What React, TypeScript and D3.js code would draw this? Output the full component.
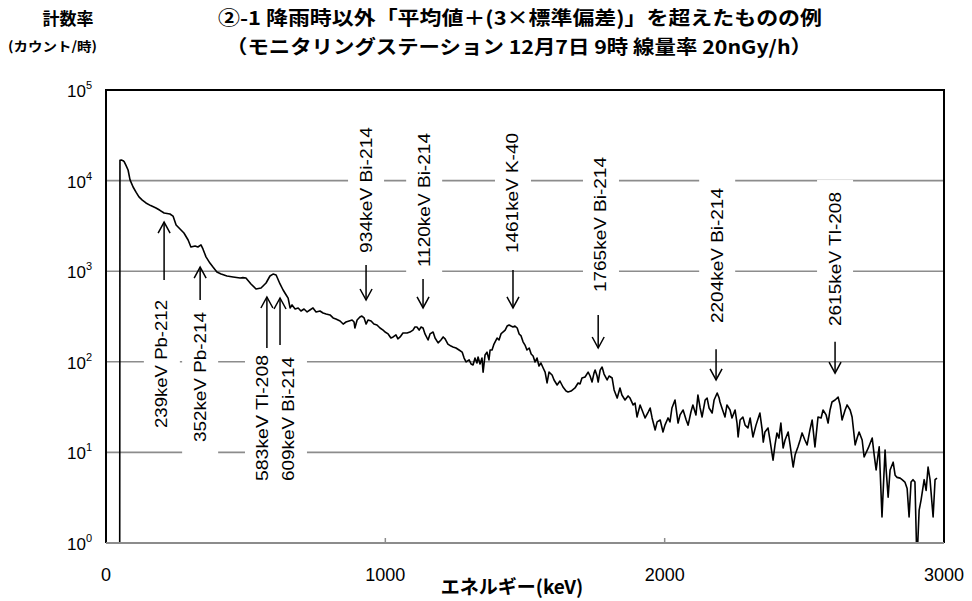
import { useEffect, useRef } from 'react';
import * as d3 from 'd3';

// spectrum: [energy keV, counts per hour]
const spectrum: [number, number][] = [
  [49, 0.3], [50, 16800], [55, 16900], [61, 16600], [65, 16200], [72, 14600], [79, 13100], [86, 10200],
  [97, 8500], [108, 7400], [118, 6600], [130, 6100], [143, 5660], [160, 5300], [179, 4990], [193, 4700],
  [208, 4390], [229, 4280], [240, 4060], [251, 3240], [265, 2920], [279, 2640], [294, 2210], [304, 1850],
  [319, 1900], [329, 1850], [340, 1950], [347, 1760], [358, 1440], [372, 1230], [383, 1110], [397, 980],
  [412, 930], [433, 885], [455, 863], [480, 841], [490, 850], [501, 841], [519, 723], [537, 637],
  [555, 653], [573, 741], [587, 885], [598, 930], [609, 908], [623, 723], [634, 620], [645, 546],
  [652, 505], [659, 393], [666, 424], [677, 383], [688, 393], [698, 364], [709, 383], [720, 355],
  [730, 373], [741, 393], [752, 355], [766, 364], [777, 346], [788, 337], [802, 329], [813, 305],
  [823, 297], [838, 282], [849, 261], [859, 275], [870, 282], [881, 289], [888, 275], [891, 236],
  [899, 289], [909, 312], [916, 320], [924, 305], [931, 261], [938, 289], [949, 282], [959, 261],
  [970, 255], [981, 236], [992, 224], [999, 213], [1010, 203], [1020, 183], [1028, 188], [1038, 198],
  [1045, 179], [1053, 188], [1063, 208], [1078, 208], [1088, 213], [1099, 224], [1106, 242], [1113, 242],
  [1121, 224], [1128, 242], [1135, 236], [1142, 203], [1153, 174], [1160, 203], [1171, 213], [1178, 183],
  [1189, 162], [1199, 174], [1207, 188], [1214, 179], [1224, 157], [1235, 149], [1242, 146], [1253, 142],
  [1264, 135], [1275, 128], [1282, 110], [1289, 99.6], [1300, 105], [1307, 94.6], [1314, 92.3], [1321, 110],
  [1328, 97], [1332, 113], [1339, 94.6], [1346, 110], [1350, 77], [1357, 119], [1364, 128], [1371, 105],
  [1375, 135], [1382, 135], [1389, 157], [1400, 183], [1407, 174], [1414, 203], [1421, 213], [1429, 224],
  [1436, 248], [1443, 255], [1450, 248], [1457, 242], [1464, 248], [1472, 236], [1479, 203], [1486, 193],
  [1493, 166], [1500, 153], [1507, 135], [1515, 142], [1522, 122], [1529, 116], [1536, 99.6], [1543, 110],
  [1550, 90], [1557, 97], [1565, 85.5], [1572, 77], [1579, 58.4], [1586, 77], [1597, 71.5], [1604, 63],
  [1615, 55.5], [1625, 61.4], [1636, 52.7], [1647, 47.6], [1654, 46.5], [1665, 47.6], [1679, 51.4], [1690, 58.4],
  [1697, 56.9], [1704, 66.2], [1715, 67.9], [1726, 77], [1733, 69.7], [1740, 59.8], [1747, 75], [1751, 81],
  [1758, 69.7], [1762, 59.8], [1769, 81], [1776, 87.5], [1783, 73.3], [1794, 63], [1801, 69.7], [1812, 66.2],
  [1819, 48.9], [1830, 39.8], [1840, 51.4], [1847, 43], [1858, 37.9], [1869, 42], [1876, 39.8], [1887, 33.4],
  [1894, 35.1], [1901, 24.6], [1912, 33.4], [1919, 29.4], [1930, 24], [1941, 27.9], [1948, 30.9], [1955, 24],
  [1966, 17.7], [1973, 21.7], [1984, 22.8], [1994, 16.8], [2001, 20], [2012, 24], [2019, 21.7], [2026, 30.9],
  [2037, 37.9], [2048, 21.1], [2055, 25.9], [2066, 29.4], [2077, 22.8], [2084, 20], [2094, 27.9], [2101, 33.4],
  [2112, 25.9], [2119, 43], [2127, 30.9], [2134, 24.6], [2145, 37.9], [2152, 39.8], [2159, 30.9], [2170, 27.2],
  [2177, 37.9], [2188, 45.2], [2195, 39.8], [2198, 36], [2205, 30.9], [2216, 24.6], [2223, 33.4], [2234, 29.4],
  [2241, 24], [2252, 29.4], [2259, 21.1], [2263, 14.8], [2270, 22.8], [2280, 24.6], [2288, 20], [2298, 18.6],
  [2306, 24], [2316, 14.8], [2327, 20], [2341, 27.2], [2349, 17.7], [2353, 13], [2359, 16.8], [2370, 18.6],
  [2377, 13.7], [2388, 8.2], [2395, 12.1], [2402, 16.4], [2409, 14.4], [2416, 21.1], [2424, 11.2], [2431, 13.7],
  [2442, 16.8], [2449, 12.1], [2460, 6.9], [2467, 9.4], [2477, 11.5], [2485, 13.7], [2492, 16.4], [2502, 13.7],
  [2510, 12.1], [2520, 17.7], [2528, 22.8], [2538, 11.5], [2549, 24.6], [2560, 24], [2567, 29.4], [2578, 25.9],
  [2585, 21.1], [2592, 29.4], [2599, 36], [2610, 37.9], [2621, 40.8], [2628, 33.4], [2635, 22.8], [2646, 29.4],
  [2653, 33.4], [2664, 29.4], [2671, 24.6], [2682, 12.1], [2689, 14.4], [2696, 16.8], [2707, 13.7], [2714, 8.9],
  [2729, 11.2], [2743, 14.4], [2750, 9.4], [2757, 6.4], [2764, 9.4], [2768, 11.5], [2778, 1.94], [2789, 10.6],
  [2793, 6.4], [2800, 3.2], [2807, 6.4], [2818, 7.8], [2825, 5.6], [2832, 5.3], [2843, 5.2], [2850, 5.0],
  [2860, 4.7], [2868, 4.0], [2875, 1.94], [2882, 4.7], [2889, 5.0], [2896, 4.7], [2903, 0.6], [2911, 2.3],
  [2918, 3.0], [2929, 5.0], [2936, 3.8], [2943, 6.9], [2950, 5.0], [2961, 1.94], [2968, 5.0], [2975, 5.2],
];

// peak annotations
const peakLabels = [
  "239keV Pb-212", "352keV Pb-214", "583keV Tl-208", "609keV Bi-214", "934keV Bi-214",
  "1120keV Bi-214", "1461keV K-40", "1765keV Bi-214", "2204keV Bi-214", "2615keV Tl-208",
];
const labelEnergy = [200, 337, 562, 655, 931, 1139, 1457, 1772, 2188, 2610];
const labelBottom = [18.6, 13.0, 4.83, 4.83, 1590, 1110, 1590, 589, 268, 248];
const labelTop = [481, 355, 119, 113, 39100, 33500, 33500, 18200, 8280, 7480];
const arrowEnergy = [208, 337, 576, 623, 931, 1135, 1457, 1762, 2184, 2610];
const arrowFrom = [800, 481, 142, 153, 1170, 820, 1030, 329, 138, 166];
const arrowTo = [3490, 1110, 519, 506, 481, 393, 393, 142, 63, 75];

const xTicks = [0, 1000, 2000, 3000];
const yExponents = [0, 1, 2, 3, 4, 5];

const App = () => {
  const svgRef = useRef(null);

  useEffect(() => {
    if (!svgRef.current) return;
    const svg = d3.select(svgRef.current);
    svg.selectAll("*").remove();

    const left = 106, right = 944, top = 90, bottom = 543;
    const x = d3.scaleLinear().domain([0, 3000]).range([left, right]);
    const y = d3.scaleLog().domain([1, 1e5]).range([bottom, top]);

    svg.append("defs").append("clipPath").attr("id", "plotclip")
      .append("rect").attr("x", left).attr("y", top).attr("width", right - left).attr("height", bottom - top);

    // grid
    svg.append("g").selectAll("line")
      .data(yExponents.slice(1, 5))
      .enter().append("line")
      .attr("x1", left).attr("x2", right)
      .attr("y1", d => y(Math.pow(10, d))).attr("y2", d => y(Math.pow(10, d)))
      .attr("stroke", "#8c8c8c").attr("stroke-width", 1.6);

    // white boxes behind the labels
    svg.append("g").selectAll("rect")
      .data(peakLabels)
      .enter().append("rect")
      .attr("x", (d, i) => x(labelEnergy[i]) - 18)
      .attr("width", 36)
      .attr("y", (d, i) => y(labelTop[i]) - 12)
      .attr("height", (d, i) => y(labelBottom[i]) - y(labelTop[i]) + 24)
      .attr("fill", "white");

    svg.append("g").selectAll("text")
      .data(peakLabels)
      .enter().append("text")
      .attr("transform", (d, i) => `translate(${x(labelEnergy[i])},${y(labelBottom[i])}) rotate(-90)`)
      .attr("dominant-baseline", "central")
      .attr("textLength", (d, i) => y(labelBottom[i]) - y(labelTop[i]))
      .attr("lengthAdjust", "spacingAndGlyphs")
      .attr("font-family", "'Liberation Sans', Arial, sans-serif")
      .attr("font-size", 17)
      .attr("fill", "black")
      .text(d => d);

    // arrows
    const arrows = svg.append("g").attr("stroke", "black").attr("stroke-width", 1.5).attr("fill", "none");
    peakLabels.forEach((_, i) => {
      const ax = x(arrowEnergy[i]);
      const y0 = y(arrowFrom[i]);
      const y1 = y(arrowTo[i]);
      const dir = y1 > y0 ? 1 : -1;
      arrows.append("line").attr("x1", ax).attr("x2", ax).attr("y1", y0).attr("y2", y1);
      arrows.append("polyline")
        .attr("points", `${ax - 6},${y1 - dir * 11} ${ax},${y1} ${ax + 6},${y1 - dir * 11}`);
    });

    // spectrum
    const line = d3.line<[number, number]>()
      .x(d => x(d[0]))
      .y(d => y(d[1]));
    svg.append("path")
      .datum(spectrum)
      .attr("clip-path", "url(#plotclip)")
      .attr("d", line)
      .attr("fill", "none")
      .attr("stroke", "black")
      .attr("stroke-width", 1.6)
      .attr("stroke-linejoin", "round");

    // frame
    svg.append("path")
      .attr("d", `M${left},${bottom}V${top}H${right}V${bottom}`)
      .attr("fill", "none").attr("stroke", "black").attr("stroke-width", 2);
    svg.append("line")
      .attr("x1", left).attr("x2", right).attr("y1", bottom).attr("y2", bottom)
      .attr("stroke", "#8c8c8c").attr("stroke-width", 2);
    svg.append("g").selectAll("line")
      .data(xTicks.slice(1, 3))
      .enter().append("line")
      .attr("x1", d => x(d)).attr("x2", d => x(d))
      .attr("y1", bottom).attr("y2", bottom - 5)
      .attr("stroke", "#8c8c8c").attr("stroke-width", 1.5);

    // x tick labels
    svg.append("g").selectAll("text")
      .data(xTicks)
      .enter().append("text")
      .attr("x", d => x(d)).attr("y", 581)
      .attr("text-anchor", "middle")
      .attr("font-family", "'Liberation Sans', Arial, sans-serif")
      .attr("font-size", 18)
      .text(d => String(d));

    // y tick labels 10^n
    const yl = svg.append("g").selectAll("text")
      .data(yExponents)
      .enter().append("text")
      .attr("x", 92).attr("y", d => y(Math.pow(10, d)) + 7)
      .attr("text-anchor", "end")
      .attr("font-family", "'Liberation Sans', Arial, sans-serif")
      .attr("font-size", 17);
    yl.append("tspan").text("10");
    yl.append("tspan").attr("dy", -8).attr("font-size", 11).text(d => String(d));

    // titles
    const jp = "'Noto Sans CJK JP', sans-serif";
    svg.append("text").attr("x", 218).attr("y", 25)
      .attr("font-family", jp).attr("font-weight", "bold").attr("font-size", 19)
      .attr("textLength", 604).attr("lengthAdjust", "spacingAndGlyphs")
      .text("②-1 降雨時以外「平均値＋(3×標準偏差)」を超えたものの例");
    svg.append("text").attr("x", 226).attr("y", 54)
      .attr("font-family", jp).attr("font-weight", "bold").attr("font-size", 19)
      .attr("textLength", 586).attr("lengthAdjust", "spacingAndGlyphs")
      .text("（モニタリングステーション 12月7日 9時 線量率 20nGy/h）");
    svg.append("text").attr("x", 68).attr("y", 25).attr("text-anchor", "middle")
      .attr("font-family", jp).attr("font-weight", "bold").attr("font-size", 17)
      .text("計数率");
    svg.append("text").attr("x", 8).attr("y", 51)
      .attr("font-family", jp).attr("font-weight", "bold").attr("font-size", 13)
      .attr("textLength", 89).attr("lengthAdjust", "spacingAndGlyphs")
      .text("(カウント/時)");
    svg.append("text").attr("x", 512).attr("y", 594).attr("text-anchor", "middle")
      .attr("font-family", jp).attr("font-weight", "bold").attr("font-size", 19)
      .text("エネルギー(keV)");
  }, []);

  return (
    <svg ref={svgRef} width={972} height={601}
      style={{ position: "absolute", left: 0, top: 0, background: "white" }} />
  );
};

export default App;
